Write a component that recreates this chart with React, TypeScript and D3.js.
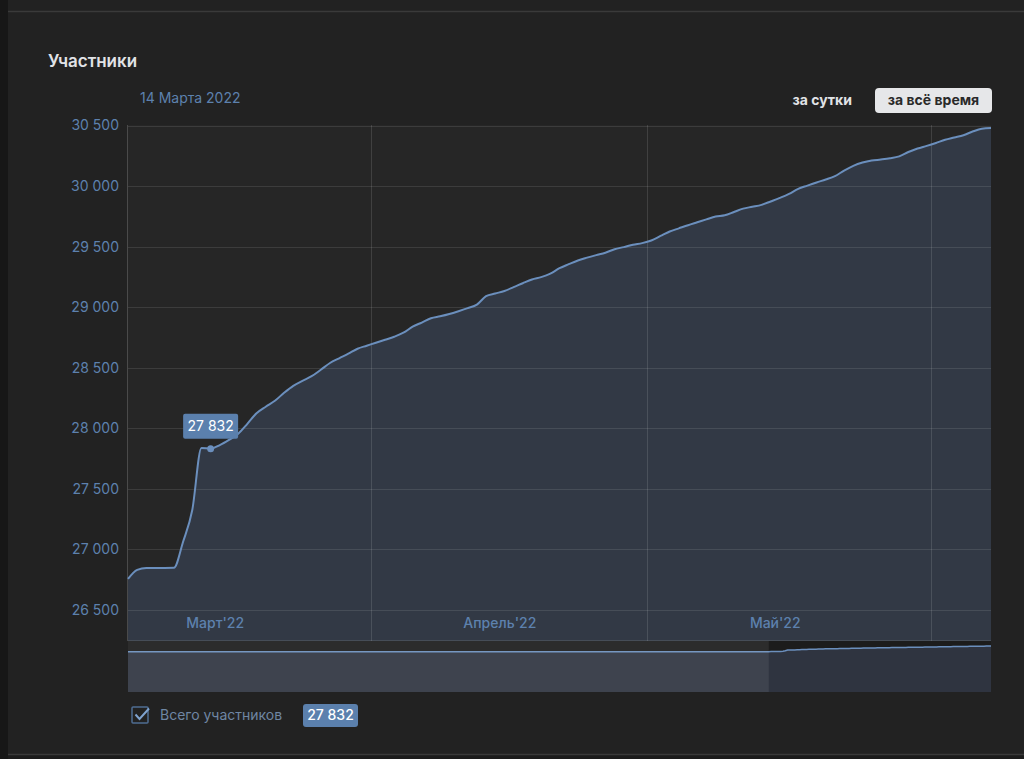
import React from "react";
import * as d3 from "d3";

// ---- data ----
const seriesStart = new Date(2022, 2, 5, 12); // first daily point (5 March 2022)
const members = [
  26756, 26831, 26847, 26847, 26847, 26848, 27063, 27326, 27838, 27832,
  27862, 27905, 27955, 28037, 28124, 28178, 28227, 28293, 28351, 28392,
  28430, 28483, 28539, 28578, 28616, 28657, 28682, 28707, 28731, 28756,
  28789, 28839, 28873, 28909, 28925, 28944, 28967, 28992, 29021, 29091,
  29113, 29134, 29165, 29198, 29229, 29248, 29277, 29322, 29355, 29386,
  29409, 29430, 29450, 29479, 29496, 29516, 29529, 29551, 29588, 29625,
  29651, 29677, 29701, 29725, 29748, 29759, 29786, 29814, 29829, 29845,
  29873, 29902, 29935, 29977, 30004, 30030, 30054, 30082, 30128, 30167,
  30194, 30211, 30219, 30229, 30245, 30281, 30310, 30332, 30356, 30382,
  30401, 30420, 30450, 30473, 30479,
];
const yTicks = [26500, 27000, 27500, 28000, 28500, 29000, 29500, 30000, 30500];
const monthNames = ["Январь", "Февраль", "Март", "Апрель", "Май", "Июнь", "Июль", "Август", "Сентябрь", "Октябрь", "Ноябрь", "Декабрь"];
const hoverIndex = 9; // 14 March 2022
const hoverTitle = "14 Марта 2022";
const title = "Участники";
const periodButtons = ["за сутки", "за всё время"];
const legendLabel = "Всего участников";
const navigatorYears = 1;

// ---- styles ----
const FONT = "Inter, Roboto, 'Noto Sans', sans-serif";
const BLUE = "#5d81ae";
const LINE = "#6b8fbd";
const FILL = "#323945";

export default function App() {
  const W = 1024, H = 759;
  const left = 128, right = 991, top = 125, bottom = 610, bandBottom = 641;
  const navTop = 641, navBottom = 692;

  const data = members.map((v, i) => ({ date: d3.timeDay.offset(seriesStart, i), value: v }));
  const x = d3.scaleTime()
    .domain([data[0].date, data[data.length - 1].date])
    .range([left, right]);
  const y = d3.scaleLinear().domain([26500, 30500]).range([bottom, top + 0.5]);

  const area = d3.area<any>().x(d => x(d.date)).y0(bottom).y1(d => y(d.value)).curve(d3.curveMonotoneX);
  const line = d3.line<any>().x(d => x(d.date)).y(d => y(d.value)).curve(d3.curveMonotoneX);

  const fmt = (v: number) => d3.format(",")(v).replace(/,/g, " ");

  const months = d3.timeMonth.range(d3.timeMonth.floor(x.domain()[0]), x.domain()[1]);
  const monthLines = d3.timeMonth.range(x.domain()[0], x.domain()[1]);
  const monthLabels = months
    .map(m => ({ m, d: d3.timeDay.offset(m, 14) }))
    .filter(o => x(o.d) >= left && x(o.d) <= right);

  // navigator
  const navStart = d3.timeYear.offset(data[data.length - 1].date, -navigatorYears);
  const nx = d3.scaleTime().domain([navStart, data[data.length - 1].date]).range([left, right]);
  const ny = d3.scaleLinear().domain([0, d3.max(members)! * 1.11]).range([navBottom, navTop]);
  const navData = [{ date: navStart, value: members[0] }, ...data];
  const navArea = d3.area<any>().x(d => nx(d.date)).y0(navBottom).y1(d => ny(d.value));
  const navLine = d3.line<any>().x(d => nx(d.date)).y(d => ny(d.value));
  const selX = nx(data[0].date);

  const hover = data[hoverIndex];
  const hx = x(hover.date), hy = y(hover.value);

  return (
    <div style={{ position: "absolute", left: 0, top: 0, width: W, height: H }}>
      <svg width={W} height={H} style={{ display: "block", fontFamily: FONT }}>
        <rect x={0} y={0} width={W} height={H} fill="#222222" />
        <rect x={0} y={0} width={8} height={H} fill="#171717" />
        <line x1={8} x2={W} y1={11.5} y2={11.5} stroke="#3a3a3a" strokeWidth={1.5} />
        <rect x={8} y={755} width={W} height={4} fill="#1c1c1c" />
        <line x1={8} x2={W} y1={754.5} y2={754.5} stroke="#3a3a3a" strokeWidth={1.5} />

        <text x={48} y={67} fontSize={17} fontWeight={600} fill="#e1e3e6">{title}</text>
        <text x={140} y={103} fontSize={14} fill={BLUE}>{hoverTitle}</text>

        <text x={852} y={105} fontSize={14} fontWeight={700} fill="#e1e3e6" textAnchor="end">{periodButtons[0]}</text>
        <rect x={875} y={88} width={117} height={25} rx={4} fill="#e6e7e9" />
        <text x={933.5} y={105} fontSize={14} fontWeight={700} fill="#2a2a2a" textAnchor="middle">{periodButtons[1]}</text>

        {/* plot */}
        <rect x={left} y={top} width={right - left} height={bottom - top} fill="#262626" />
        <path d={area(data) || ""} fill={FILL} />
        <rect x={left} y={bottom} width={right - left} height={bandBottom - bottom} fill={FILL} />
        {yTicks.map(t => (
          <line key={t} x1={left} x2={right} y1={Math.round(y(t)) + 0.5} y2={Math.round(y(t)) + 0.5} stroke="rgba(255,255,255,0.1)" />
        ))}
        <line x1={left} x2={right} y1={bandBottom - 0.5} y2={bandBottom - 0.5} stroke="rgba(255,255,255,0.1)" />
        {monthLines.map(m => (
          <line key={+m} x1={Math.round(x(m)) + 0.5} x2={Math.round(x(m)) + 0.5} y1={top} y2={bandBottom} stroke="rgba(255,255,255,0.12)" />
        ))}
        <line x1={left - 0.5} x2={left - 0.5} y1={top} y2={bandBottom} stroke="#4a4a4a" />
        <path d={line(data) || ""} fill="none" stroke={LINE} strokeWidth={2} strokeLinejoin="round" />
        {yTicks.map(t => (
          <text key={t} x={119} y={y(t)} dy="0.35em" fontSize={14} fill={BLUE} textAnchor="end">{fmt(t)}</text>
        ))}
        {monthLabels.map(o => (
          <text key={+o.m} x={x(o.d)} y={628} fontSize={14} fontWeight={500} fill={BLUE} textAnchor="middle">
            {monthNames[o.m.getMonth()] + "'" + String(o.m.getFullYear()).slice(2)}
          </text>
        ))}

        {/* hover */}
        <circle cx={hx} cy={hy} r={3.5} fill={LINE} />
        <rect x={hx - 27.5} y={hy - 35} width={55} height={25} rx={2} fill="#5b80ad" />
        <text x={hx} y={hy - 17.5} fontSize={14} fill="#ffffff" textAnchor="middle">{fmt(hover.value)}</text>

        {/* navigator */}
        <rect x={left} y={navTop} width={right - left} height={navBottom - navTop} fill="#1c1c1c" />
        <path d={navArea(navData) || ""} fill="#2f3440" />
        <path d={navLine(navData) || ""} fill="none" stroke={LINE} strokeWidth={1.5} />
        <rect x={left} y={navTop} width={selX - left} height={navBottom - navTop} fill="rgba(255,255,255,0.075)" />

        {/* legend */}
        <rect x={132} y={707} width={16} height={16} fill="none" stroke="#4f6d93" strokeWidth={1.5} rx={1} />
        <path d="M135.5,714.5 L139.5,719 L149,708.5" fill="none" stroke="#7fa3cf" strokeWidth={2} />
        <text x={160} y={720} fontSize={14} fill="#6f86a3">{legendLabel}</text>
        <rect x={303} y={704} width={55} height={23} rx={3} fill="#5b80ad" />
        <text x={330.5} y={720} fontSize={14} fontWeight={500} fill="#ffffff" textAnchor="middle">{fmt(hover.value)}</text>
      </svg>
    </div>
  );
}
